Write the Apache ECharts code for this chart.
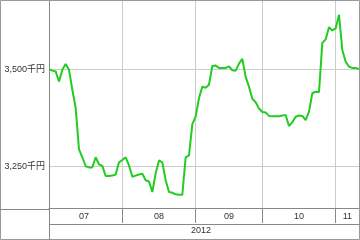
<!DOCTYPE html>
<html><head><meta charset="utf-8">
<script src="https://cdn.jsdelivr.net/npm/echarts@6/dist/echarts.min.js"></script>
<style>html,body{margin:0;padding:0;background:#fff}#c{width:360px;height:240px}</style>
</head><body><div id="c"></div>
<script>
// trading-day values (千円), one per day
const values = [3500,3496,3494,3468,3498,3513,3498,3447,3401,3294,
3274,3251,3248,3248,3274,3256,3252,3226,3226,3227,
3230,3261,3267,3274,3253,3224,3227,3230,3232,3215,
3212,3185,3233,3266,3261,3215,3185,3183,3179,3178,
3178,3274,3279,3359,3378,3426,3455,3452,3460,3508,
3509,3503,3503,3503,3507,3497,3496,3514,3526,3480,
3455,3424,3415,3399,3390,3389,3380,3379,3379,3379,
3381,3382,3354,3364,3378,3381,3380,3369,3391,3438,
3442,3441,3567,3576,3607,3599,3604,3639,3549,3519,
3506,3503,3503,3500];
const monthStarts = [22, 44, 64, 86];          // day index where each new month begins
const monthMids = [10.5, 33, 54, 75, 89.5];    // label positions (day index)
const monthLabels = ['07', '08', '09', '10', '11'];
const yearLabel = '2012';
const yTicks = [3250, 3500];
const yMin = 3144, yMax = 3677;

const font = 'Liberation Sans, "Noto Sans CJK JP", sans-serif';
const chart = echarts.init(document.getElementById('c'), null, {renderer: 'canvas'});
chart.setOption({
  animation: false,
  backgroundColor: '#fff',
  grid: {left: 49, right: 1, top: 0, bottom: 31},
  xAxis: {
    type: 'value', min: 0, max: values.length - 1,
    axisLine: {show: true, lineStyle: {color: '#888'}},
    axisTick: {show: true, inside: false, length: 15, customValues: monthStarts, lineStyle: {color: '#888'}},
    splitLine: {show: true, lineStyle: {color: '#cccccc'}},
    axisLabel: {
      customValues: monthMids, margin: 4, color: '#333', fontSize: 9, fontFamily: font,
      formatter: v => monthLabels[monthMids.indexOf(v)]
    },
    name: yearLabel, nameLocation: 'middle', nameGap: 18,
    nameTextStyle: {color: '#333', fontSize: 9, fontFamily: font, padding: [0, 6, 0, 0]}
  },
  yAxis: {
    type: 'value', min: yMin, max: yMax,
    axisLine: {show: true, lineStyle: {color: '#888'}},
    axisTick: {show: false, customValues: yTicks},
    splitLine: {show: true, lineStyle: {color: '#cccccc'}},
    axisLabel: {
      customValues: yTicks, margin: 4, color: '#333', fontSize: 9, fontFamily: font,
      formatter: v => v.toLocaleString('en-US') + '千円'
    }
  },
  graphic: [
    {type: 'rect', shape: {x: 0.5, y: 0.5, width: 359, height: 239}, style: {fill: null, stroke: '#999', lineWidth: 1}, z: 100},
    {type: 'line', shape: {x1: 49.5, y1: 209, x2: 49.5, y2: 240}, style: {stroke: '#888', lineWidth: 1}, z: 100},
    {type: 'line', shape: {x1: 0, y1: 209.5, x2: 49, y2: 209.5}, style: {stroke: '#888', lineWidth: 1}, z: 100},
    {type: 'line', shape: {x1: 49, y1: 224.5, x2: 360, y2: 224.5}, style: {stroke: '#888', lineWidth: 1}, z: 100}
  ],
  series: [{
    type: 'line', data: values.map((v, i) => [i, v]),
    showSymbol: false, symbol: 'none',
    lineStyle: {color: '#22cc22', width: 2}
  }]
});
</script></body></html>
